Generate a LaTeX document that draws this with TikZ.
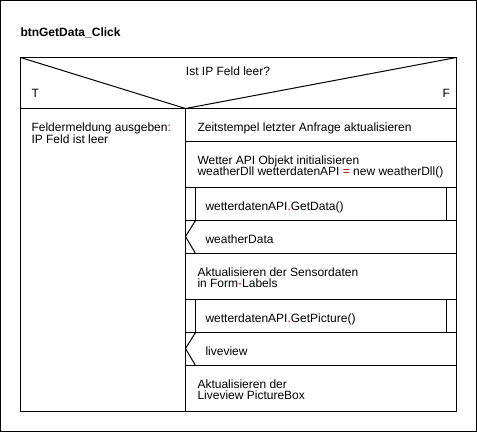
\documentclass[tikz,border=0pt]{standalone}
\usepackage{fontspec}
\setmainfont{Liberation Sans}
\usepackage{tikz}
\definecolor{opred}{RGB}{192,0,0}

\begin{document}
\begin{tikzpicture}[x=1pt, y=-1pt, line width=1pt,
	txt/.style={anchor=base west, inner sep=0pt, align=left, font=\fontsize{12}{11.5}\selectfont}]
	\useasboundingbox (0,0) rectangle (477,432);
	\draw (0.5,0.5) rectangle (476.5,431.5);

	\node[txt, font=\fontsize{12}{11.5}\selectfont\bfseries] (title) at (20,36) {btnGetData\_Click};

	% alternative
	\draw (20.5,57.5) rectangle (456.5,411.5);
	\draw (20.5,57.5) -- (185.5,108.5) -- (456.5,57.5);
	\draw (20.5,108.5) -- (456.5,108.5);
	\draw (185.5,108.5) -- (185.5,411.5);

	\node[txt, anchor=base] (cond) at (228,75) {Ist IP Feld leer?};
	\node[txt] (yes) at (31,97) {T};
	\node[txt] (no) at (442,97) {F};

	% rows of the F branch
	\foreach \y in {141,187,220,253,299,332,365}
		\draw (185.5,\y+0.5) -- (456.5,\y+0.5);

	% calls
	\draw (195.5,187.5) -- (195.5,220.5);
	\draw (446.5,187.5) -- (446.5,220.5);
	\draw (195.5,299.5) -- (195.5,332.5);
	\draw (446.5,299.5) -- (446.5,332.5);

	% exits
	\draw (195.5,220.5) -- (185.5,236.5) -- (195.5,253.5);
	\draw (195.5,332.5) -- (185.5,348.5) -- (195.5,365.5);

	% base of a two-line node is its last line
	\node[txt] (msg) at (31,143) {Feldermeldung ausgeben\textcolor{opred}{:}\\IP Feld ist leer};

	\node[txt] (stamp) at (197,131.5) {Zeitstempel letzter Anfrage aktualisieren};
	\node[txt] (init) at (197,175.5) {Wetter API Objekt initialisieren\\weatherDll wetterdatenAPI \textcolor{opred}{=} new weatherDll()};
	\node[txt] (getdata) at (205,210) {wetterdatenAPI\textcolor{opred}{.}GetData()};
	\node[txt] (wdata) at (205,243) {weatherData};
	\node[txt] (sensor) at (197,287.5) {Aktualisieren der Sensordaten\\in Form\textcolor{opred}{-}Labels};
	\node[txt] (getpic) at (205,322) {wetterdatenAPI\textcolor{opred}{.}GetPicture()};
	\node[txt] (live) at (205,355) {liveview};
	\node[txt] (pbox) at (197,399.5) {Aktualisieren der\\Liveview PictureBox};

\end{tikzpicture}
\end{document}
